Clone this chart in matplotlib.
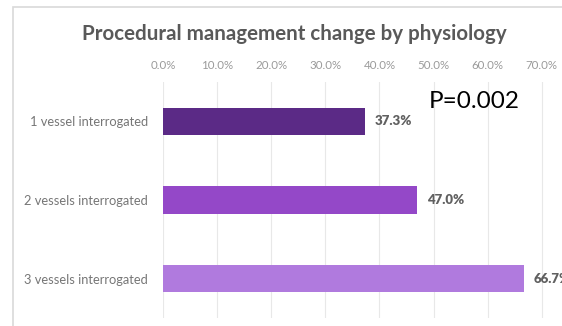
import matplotlib.pyplot as plt
from matplotlib.patches import Rectangle

# data
categories = ['1 vessel interrogated', '2 vessels interrogated', '3 vessels interrogated']
values = [0.373, 0.470, 0.667]
value_labels = ['37.3%', '47.0%', '66.7%']
bar_colors = ['#5b2a86', '#9448c8', '#b07ade']
ticks = [0.0, 0.1, 0.2, 0.3, 0.4, 0.5, 0.6, 0.7]
tick_labels = ['0.0%', '10.0%', '20.0%', '30.0%', '40.0%', '50.0%', '60.0%', '70.0%']

W, H = 562, 326
fig = plt.figure(figsize=(W / 100, H / 100), dpi=100)
fig.patch.set_facecolor('white')

# chart area border (left and top edges visible)
fig.add_artist(Rectangle((13 / W, -0.1), 2.0, (H - 7) / H + 0.1, transform=fig.transFigure,
                         fill=False, edgecolor='#d9d9d9', linewidth=1.2))

# axes: 0% at x=163 px, 54.1 px per 10%
x0, px10 = 163, 54.1
xmax = 0.75
ax = fig.add_axes([x0 / W, (H - 318) / H, (px10 * 7.5) / W, (318 - 82) / H])
ax.barh(range(len(categories)), values, height=0.35, color=bar_colors, zorder=3)
ax.set_xlim(0, xmax)
ax.set_ylim(2.5, -0.5)

ax.xaxis.tick_top()
ax.set_xticks(ticks)
ax.set_xticklabels(tick_labels, fontsize=8.3, color='#9a9a9a', family='Lato')
ax.tick_params(axis='x', length=0, pad=8)
ax.set_yticks(range(len(categories)))
ax.set_yticklabels(categories, fontsize=9.3, color='#767676', family='Lato')
ax.tick_params(axis='y', length=0, pad=11)
ax.grid(axis='x', color='#e8e8e8', linewidth=0.8, zorder=0)
for s in ax.spines.values():
    s.set_visible(False)

for i, (v, lab) in enumerate(zip(values, value_labels)):
    ax.text(v + 0.018, i, lab, va='center', ha='left', fontsize=9.5, fontweight='heavy',
            color='#606060', family='Lato')

fig.text(294 / W, 1 - 34 / H, 'Procedural management change by physiology', ha='center',
         va='center', fontsize=14.8, fontweight='bold', color='#595959', family='Lato')
fig.text(474 / W, 1 - 101 / H, 'P=0.002', ha='center', va='center', fontsize=17.5,
         color='black', family='Lato')

fig.savefig('out.png', dpi=100)
